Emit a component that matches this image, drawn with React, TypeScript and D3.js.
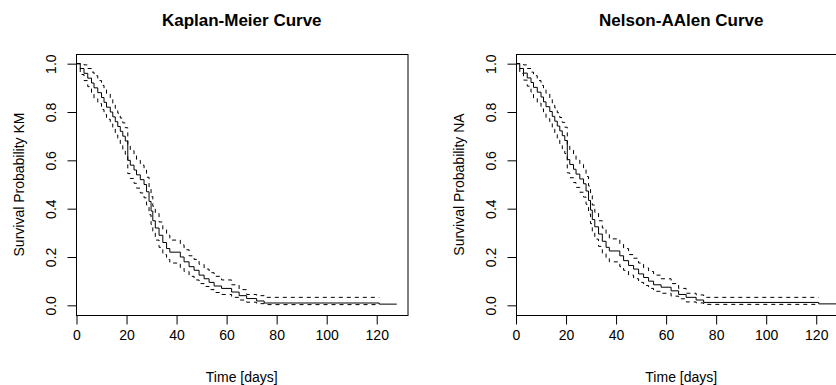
import { useEffect, useRef } from 'react';
import * as d3 from 'd3';

// event times shared by both estimators (days)
const eventTimes = [0, 1.5, 3, 4.5, 6, 7, 8.5, 10, 11, 12, 13.5, 14.5, 15.5, 16.5, 17.5, 18.5, 19.5, 20.5, 21.5, 23, 24, 25.5, 27, 28, 29, 29.8, 30.5, 31.5, 33, 34.5, 36, 37.3, 41.5, 43, 45, 47, 49, 51, 53, 55, 58, 62, 65, 68, 72, 75, 121];
const lastTime = 128;

const kmSurv = [1, 0.98, 0.96, 0.94, 0.92, 0.9, 0.88, 0.86, 0.84, 0.82, 0.8, 0.78, 0.76, 0.74, 0.72, 0.7, 0.68, 0.6, 0.58, 0.56, 0.54, 0.52, 0.5, 0.47, 0.43, 0.39, 0.35, 0.32, 0.29, 0.26, 0.235, 0.22, 0.2, 0.18, 0.16, 0.145, 0.125, 0.11, 0.095, 0.08, 0.07, 0.055, 0.04, 0.028, 0.018, 0.0096, 0.005];
const kmUpper = [1, 1, 0.995, 0.98, 0.965, 0.95, 0.93, 0.91, 0.895, 0.875, 0.855, 0.835, 0.815, 0.795, 0.775, 0.755, 0.735, 0.66, 0.64, 0.62, 0.6, 0.58, 0.56, 0.53, 0.49, 0.45, 0.41, 0.38, 0.345, 0.315, 0.29, 0.27, 0.25, 0.23, 0.205, 0.19, 0.17, 0.15, 0.135, 0.12, 0.105, 0.085, 0.065, 0.045, 0.04, 0.033, 0.033];
const kmLower = [1, 0.955, 0.93, 0.905, 0.88, 0.855, 0.835, 0.81, 0.79, 0.77, 0.75, 0.73, 0.705, 0.685, 0.665, 0.645, 0.625, 0.545, 0.525, 0.505, 0.485, 0.465, 0.445, 0.415, 0.375, 0.335, 0.3, 0.27, 0.24, 0.21, 0.19, 0.175, 0.155, 0.14, 0.12, 0.105, 0.09, 0.078, 0.065, 0.053, 0.045, 0.033, 0.022, 0.013, 0.007, 0.003, 0.003];

const naSurv = [1, 0.98, 0.961, 0.941, 0.922, 0.902, 0.882, 0.862, 0.842, 0.822, 0.802, 0.782, 0.762, 0.742, 0.722, 0.702, 0.682, 0.603, 0.583, 0.563, 0.543, 0.523, 0.503, 0.473, 0.434, 0.394, 0.355, 0.325, 0.295, 0.265, 0.24, 0.225, 0.205, 0.185, 0.165, 0.15, 0.13, 0.115, 0.1, 0.085, 0.075, 0.06, 0.045, 0.033, 0.022, 0.012, 0.006];
const naUpper = [1, 1, 0.995, 0.98, 0.965, 0.95, 0.93, 0.91, 0.895, 0.877, 0.857, 0.837, 0.817, 0.797, 0.777, 0.757, 0.737, 0.663, 0.643, 0.623, 0.603, 0.583, 0.563, 0.533, 0.494, 0.454, 0.415, 0.385, 0.35, 0.32, 0.295, 0.275, 0.255, 0.235, 0.21, 0.195, 0.175, 0.155, 0.14, 0.125, 0.11, 0.09, 0.07, 0.05, 0.043, 0.033, 0.033];
const naLower = [1, 0.96, 0.932, 0.907, 0.882, 0.858, 0.837, 0.813, 0.793, 0.772, 0.752, 0.732, 0.708, 0.688, 0.668, 0.648, 0.628, 0.548, 0.528, 0.508, 0.488, 0.468, 0.448, 0.418, 0.378, 0.338, 0.303, 0.274, 0.244, 0.214, 0.194, 0.18, 0.16, 0.145, 0.125, 0.11, 0.095, 0.082, 0.07, 0.058, 0.05, 0.038, 0.027, 0.014, 0.01, 0.004, 0.004];

const xTicks = [0, 20, 40, 60, 80, 100, 120];
const yTicks = [0, 0.2, 0.4, 0.6, 0.8, 1.0];

type Panel = { title: string; ylab: string; surv: number[]; upper: number[]; lower: number[]; left: number };

const panels: Panel[] = [
  { title: 'Kaplan-Meier Curve', ylab: 'Survival Probability KM', surv: kmSurv, upper: kmUpper, lower: kmLower, left: 76 },
  { title: 'Nelson-AAlen Curve', ylab: 'Survival Probability NA', surv: naSurv, upper: naUpper, lower: naLower, left: 515.5 },
];

const W = 836, H = 385;
const font = 'Liberation Sans, Arial, Helvetica, sans-serif';

export default function App() {
  const ref = useRef<SVGSVGElement | null>(null);
  useEffect(() => {
    document.body.style.margin = '0';
    const svg = d3.select(ref.current!);
    svg.selectAll('*').remove();
    svg.append('rect').attr('width', W).attr('height', H).attr('fill', 'white');

    const top = 54, bottom = 315, boxW = 331.5;

    panels.forEach((p) => {
      const x = d3.scaleLinear().domain([0, 132.5]).range([p.left + 0.5, p.left + 0.5 + boxW]);
      const y = d3.scaleLinear().domain([-0.04, 1.04]).range([bottom, top]);
      const g = svg.append('g');

      // box
      g.append('rect').attr('x', Math.round(p.left) + 0.5).attr('y', top + 0.5)
        .attr('width', boxW).attr('height', bottom - top)
        .attr('fill', 'none').attr('stroke', 'black').attr('stroke-width', 1);

      // axes
      g.append('g').attr('transform', `translate(0,${bottom + 0.5})`)
        .call(d3.axisBottom(x).tickValues(xTicks).tickSize(9).tickPadding(6).tickFormat(d3.format('d')))
        .call((s) => s.select('.domain').attr('d', `M${x(0)},0H${x(120)}`))
        .selectAll('text').attr('font-size', 14).attr('font-family', font).attr('fill', 'black');
      g.append('g').attr('transform', `translate(${Math.round(p.left) + 0.5},0)`)
        .call(d3.axisLeft(y).tickValues(yTicks).tickSize(9).tickFormat(d3.format('.1f')))
        .call((s) => s.select('.domain').attr('d', `M0,${y(0)}V${y(1)}`))
        .selectAll('text').attr('font-size', 14).attr('font-family', font).attr('fill', 'black')
        .attr('x', 0).attr('y', 0).attr('dy', 0).attr('text-anchor', 'middle')
        .attr('transform', 'translate(-21,0) rotate(-90)');

      // step curves
      const pts = (vals: number[]) => eventTimes.map((t, i) => [t, vals[i]] as [number, number]);
      const line = d3.line<[number, number]>().x((d) => x(d[0])).y((d) => y(d[1])).curve(d3.curveStepAfter);
      const survPts = pts(p.surv);
      survPts.push([lastTime, p.surv[p.surv.length - 1]]);
      g.append('path').datum(survPts).attr('fill', 'none').attr('stroke', 'black').attr('stroke-width', 1).attr('d', line);
      [p.upper, p.lower].forEach((ci) => {
        g.append('path').datum(pts(ci)).attr('fill', 'none').attr('stroke', 'black').attr('stroke-width', 1)
          .attr('stroke-dasharray', '4,4').attr('d', line);
      });

      const cx = p.left + boxW / 2;
      g.append('text').attr('x', cx).attr('y', 26).attr('text-anchor', 'middle')
        .attr('font-family', font).attr('font-size', 17).attr('font-weight', 'bold').text(p.title);
      g.append('text').attr('x', cx).attr('y', 382).attr('text-anchor', 'middle')
        .attr('font-family', font).attr('font-size', 14).text('Time [days]');
      g.append('text').attr('transform', `translate(${p.left - 52},${(top + bottom) / 2}) rotate(-90)`)
        .attr('text-anchor', 'middle').attr('font-family', font).attr('font-size', 14).text(p.ylab);
    });
  }, []);
  return <svg ref={ref} width={W} height={H} style={{ display: 'block' }} />;
}
